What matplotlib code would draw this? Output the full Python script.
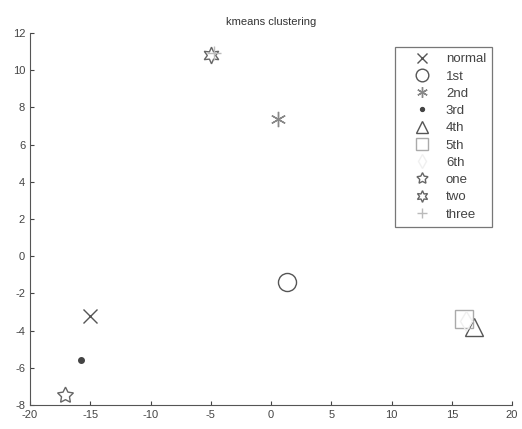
import matplotlib
matplotlib.use("Agg")
import matplotlib.pyplot as plt

labels = ["normal", "1st", "2nd", "3rd", "4th", "5th", "6th", "one", "two", "three"]
xs = [-15.0, 1.3, 0.6, -15.8, 16.8, 16.0, 16.2, -17.1, -5.0, -4.7]
ys = [-3.2, -1.4, 7.4, -5.6, -3.8, -3.4, -3.5, -7.45, 10.8, 10.9]
markers = ["x", "o", (6, 2, 0), ".", "^", "s", "d", (5, 1, 0), (6, 1, 0), "+"]
colors = ["#555555", "#555555", "#888888", "#444444", "#555555", "#aaaaaa",
          "#f0f0f0", "#666666", "#666666", "#bbbbbb"]
sizes = [10, 13, 11, 4, 13, 13, 10, 12, 12, 10]
xticks = [-20, -15, -10, -5, 0, 5, 10, 15, 20]
yticks = [-8, -6, -4, -2, 0, 2, 4, 6, 8, 10, 12]

plt.rcParams["font.family"] = ["Liberation Sans", "DejaVu Sans"]
plt.rcParams["axes.unicode_minus"] = False
fig = plt.figure(figsize=(5.22, 4.29), dpi=100)
ax = fig.add_axes([0.0575, 0.056, 0.9235, 0.867])

for lab, x, y, m, c, s in zip(labels, xs, ys, markers, colors, sizes):
    if m == ".":
        ax.plot(x, y, linestyle="none", marker="o", markersize=s, color=c, label=lab)
    else:
        ax.plot(x, y, linestyle="none", marker=m, markersize=s,
                markerfacecolor="none", markeredgecolor=c, markeredgewidth=1.0, label=lab)

ax.set_xlim(-20, 20)
ax.set_ylim(-8, 12)
ax.set_xticks(xticks)
ax.set_yticks(yticks)
ax.tick_params(direction="in", labelsize=8, length=3, colors="#444444")
ax.spines["top"].set_visible(False)
ax.spines["right"].set_visible(False)
for s in ("left", "bottom"):
    ax.spines[s].set_color("#555555")
ax.set_title("kmeans clustering", fontsize=8, color="#333333", pad=6)

leg = ax.legend(loc="upper right", bbox_to_anchor=(0.9585, 0.962), borderaxespad=0,
                fontsize=9.5, frameon=True, fancybox=False, edgecolor="#555555",
                handlelength=3.2, handletextpad=0.2, labelspacing=0.38,
                borderpad=0.45, markerscale=0.7)
leg.get_frame().set_linewidth(0.9)
for t in leg.get_texts():
    t.set_color("#444444")

fig.savefig("out.png", dpi=100, facecolor="white")
